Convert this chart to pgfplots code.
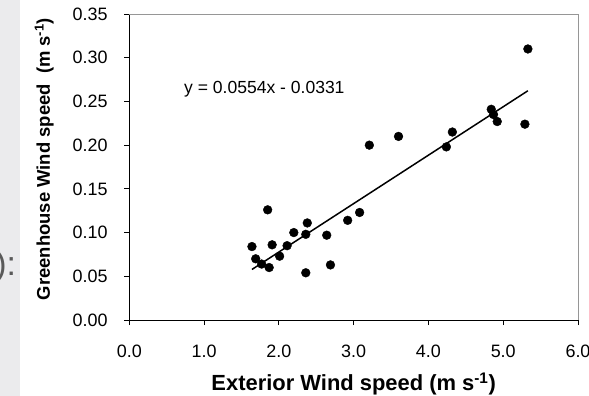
\documentclass[border=0pt]{standalone}
\usepackage{fontspec}
\setmainfont{Liberation Sans}
\usepackage{pgfplots}
\pgfplotsset{compat=1.18}
\definecolor{bggray}{RGB}{235,235,237}
\definecolor{framegray}{RGB}{150,150,150}
\definecolor{slidegray}{RGB}{90,90,90}
\pgfplotstableread{
x y
5.33 0.310
4.84 0.241
4.87 0.235
4.92 0.227
5.29 0.224
4.32 0.215
4.24 0.198
3.60 0.210
3.21 0.200
3.08 0.123
2.92 0.114
2.64 0.097
2.69 0.063
2.38 0.111
2.36 0.098
2.36 0.054
2.20 0.100
2.11 0.085
2.01 0.073
1.91 0.086
1.85 0.126
1.87 0.060
1.77 0.064
1.69 0.070
1.64 0.084
}\pts
\begin{document}
\begin{tikzpicture}
\fill[bggray] (-129.3bp,-76bp) rectangle (-109.3bp,320bp);
\node[anchor=base east, inner sep=0pt, text=slidegray, font=\fontsize{34}{34}\selectfont] at (-113bp,44bp) {):};
\begin{axis}[
  at={(0,0)}, anchor=south west,
  scale only axis, width=448.7bp, height=306bp,
  xmin=0, xmax=6, ymin=0, ymax=0.35,
  xtick={0,1,2,3,4,5,6},
  ytick={0,0.05,0.10,0.15,0.20,0.25,0.30,0.35},
  axis x line*=bottom, axis y line*=left,
  axis line style={black, line width=0.8bp, -},
  tick align=outside, major tick length=5bp,
  tick style={black, line width=0.8bp},
  ticklabel style={font=\fontsize{18}{18}\selectfont, inner sep=0pt},
  xticklabel style={/pgf/number format/fixed, /pgf/number format/fixed zerofill, /pgf/number format/precision=1, /pgf/number format/assume math mode=true, anchor=base, yshift=-32.5bp},
  yticklabel style={/pgf/number format/fixed, /pgf/number format/fixed zerofill, /pgf/number format/precision=2, /pgf/number format/assume math mode=true, anchor=east, xshift=-16.6bp},
  xlabel={Exterior Wind speed (m s\textsuperscript{-1})},
  ylabel={Greenhouse Wind speed\ \ (m s\textsuperscript{-1})},
  every axis x label/.style={at={(axis cs:3,-0.0809)}, anchor=base, inner sep=0pt, font=\bfseries\fontsize{22}{22}\selectfont},
  every axis y label/.style={at={(axis cs:-1.0605,0.1841)}, rotate=90, anchor=base, inner sep=0pt, font=\bfseries\fontsize{18.5}{18.5}\selectfont},
  clip=false,
]
\draw[framegray, line width=0.8bp] (rel axis cs:0,1) -- (rel axis cs:1,1) -- (rel axis cs:1,0);
\addplot[only marks, mark=*, mark size=4.4bp, black] table[x=x, y=y] {\pts};
\addplot[black, line width=1.5bp] coordinates {(1.64,0.0578) (5.33,0.2622)};
\node[anchor=base west, inner sep=0pt, font=\fontsize{17.6}{17.6}\selectfont] at (axis cs:0.731,0.2596) {y = 0.0554x - 0.0331};
\end{axis}
\pgfresetboundingbox
\path[use as bounding box] (-129.3bp,-76bp) rectangle (459.7bp,320bp);
\end{tikzpicture}
\end{document}
